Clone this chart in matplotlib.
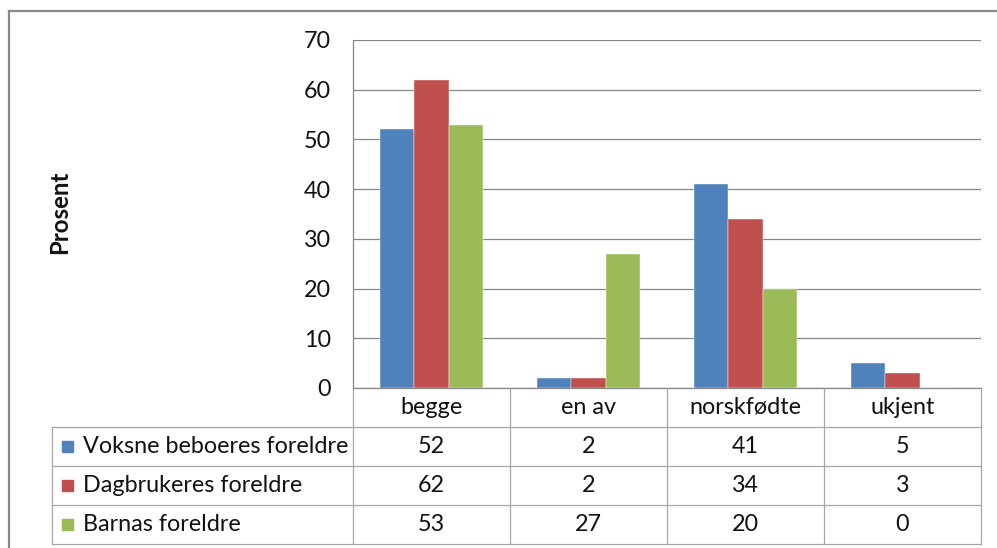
"""Excel-style grouped bar chart with a data table underneath."""

import matplotlib

matplotlib.use("Agg")
import matplotlib.pyplot as plt
from matplotlib.patches import Rectangle
from matplotlib.lines import Line2D
import numpy as np

categories = ["begge", "en av", "norskfødte", "ukjent"]
series_names = ["Voksne beboeres foreldre", "Dagbrukeres foreldre", "Barnas foreldre"]
voksne = [52, 2, 41, 5]
dagbrukere = [62, 2, 34, 3]
barna = [53, 27, 20, 0]
y_ticks = [0, 10, 20, 30, 40, 50, 60, 70]

colors = ["#4F81BD", "#C0504D", "#9BBB59"]
grid_color = "#868686"
table_color = "#A6A6A6"
text_color = "#111111"

plt.rcParams["font.family"] = ["Lato", "DejaVu Sans"]
FS = 16.8

W, H = 997, 548
fig = plt.figure(figsize=(W / 100, H / 100), dpi=100)


def px_box(x0, y0, x1, y1):
    return [x0 / W, 1 - y1 / H, (x1 - x0) / W, (y1 - y0) / H]


# outer chart frame (top and left edges visible)
fig.add_artist(Line2D([9 / W, 1], [1 - 11 / H, 1 - 11 / H], color="#898989", lw=1.6, transform=fig.transFigure))
fig.add_artist(Line2D([9 / W, 9 / W], [0, 1 - 11 / H], color="#898989", lw=1.6, transform=fig.transFigure))

ax = fig.add_axes(px_box(353, 40, 981, 388))
x = np.arange(len(categories))
width = 0.22
for i, (vals, col) in enumerate(zip([voksne, dagbrukere, barna], colors)):
    ax.bar(x + (i - 1) * width, vals, width=width, color=col, edgecolor="white", linewidth=0.3, zorder=3)

ax.set_xlim(-0.5, len(categories) - 0.5)
ax.set_ylim(0, 70)
ax.set_yticks(y_ticks)
ax.set_yticklabels([str(t) for t in y_ticks], fontsize=FS, color=text_color)
ax.set_xticks([])
ax.tick_params(axis="y", length=0, pad=16)
ax.grid(axis="y", color=grid_color, lw=0.9, zorder=0)
for side in ["top", "right"]:
    ax.spines[side].set_visible(False)
for side in ["left", "bottom"]:
    ax.spines[side].set_color(grid_color)
    ax.spines[side].set_linewidth(0.9)

fig.text(60 / W, 1 - 212 / H, "Prosent", rotation=90, ha="center", va="center",
         fontsize=FS + 0.5, fontweight="bold", color=text_color)

# data table below the axis
tab = fig.add_axes(px_box(52, 388, 981, 544))
legend_w = (353 - 52) / 157
tab.set_xlim(-0.5 - legend_w, len(categories) - 0.5)
tab.set_ylim(len(series_names) + 1, 0)
tab.axis("off")
left = -0.5 - legend_w
right = len(categories) - 0.5
nrows = len(series_names) + 1
for r in range(1, nrows + 1):
    tab.plot([left, right], [r, r], color=table_color, lw=0.9, clip_on=False)
tab.plot([left, left], [1, nrows], color=table_color, lw=0.9, clip_on=False)
for c in range(len(categories) + 1):
    tab.plot([c - 0.5, c - 0.5], [0, nrows], color=table_color, lw=0.9, clip_on=False)

for c, cat in enumerate(categories):
    tab.text(c, 0.5, cat, ha="center", va="center", fontsize=FS, color=text_color)
for r, (name, vals, col) in enumerate(zip(series_names, [voksne, dagbrukere, barna], colors), start=1):
    tab.add_patch(Rectangle((left + 10 / 157, r + 0.5 - 5.5 / 39), 11 / 157, 11 / 39,
                            color=col, clip_on=False))
    tab.text(left + 31 / 157, r + 0.5, name, ha="left", va="center", fontsize=FS, color=text_color)
    for c, v in enumerate(vals):
        tab.text(c, r + 0.5, str(v), ha="center", va="center", fontsize=FS, color=text_color)

fig.savefig("out.png", dpi=100)
